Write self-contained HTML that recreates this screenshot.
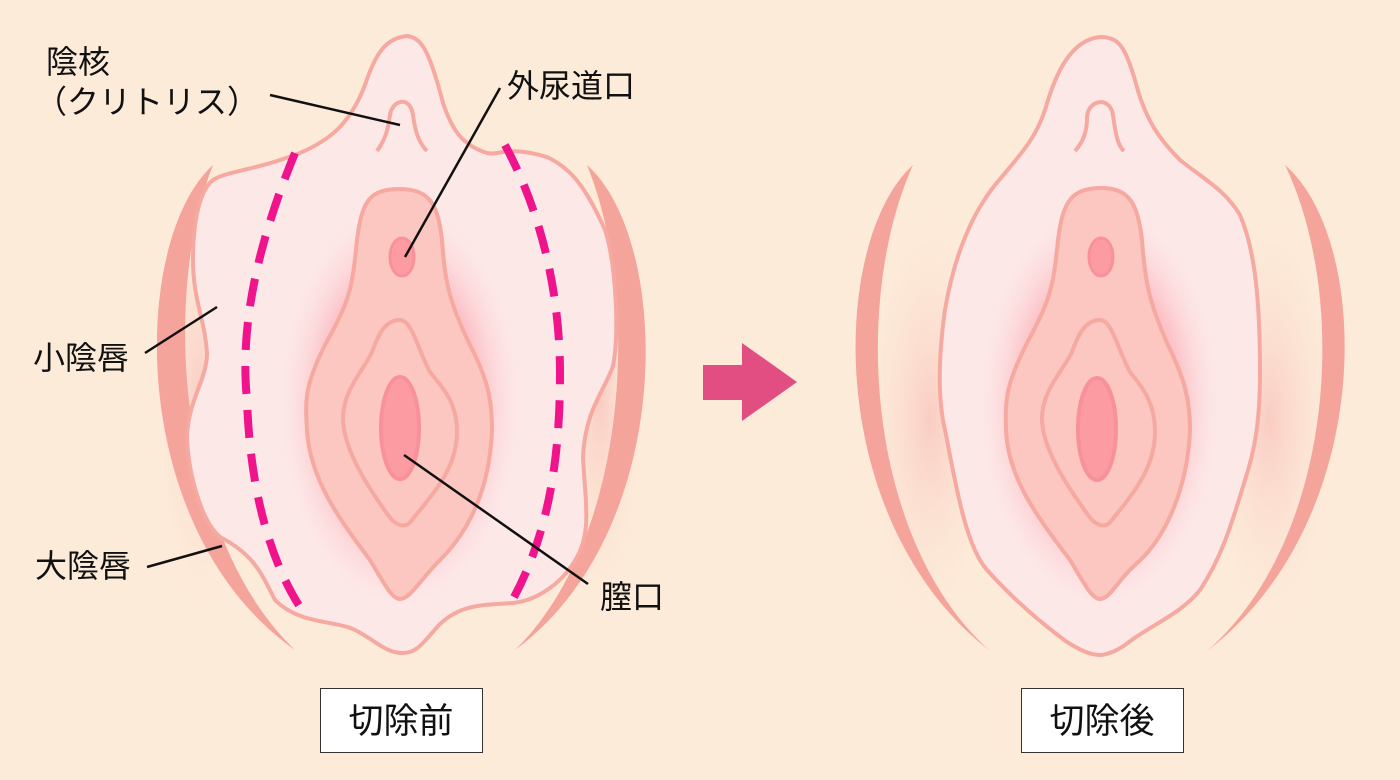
<!DOCTYPE html>
<html><head><meta charset="utf-8"><style>
html,body{margin:0;padding:0;background:#fdebd9;}
svg{display:block}
text{font-family:"Liberation Sans","Noto Sans CJK JP",sans-serif;font-size:32px;fill:#111;}
</style></head><body>
<svg width="1400" height="780" viewBox="0 0 1400 780" xmlns="http://www.w3.org/2000/svg">
<defs>
<radialGradient id="glow" cx="50%" cy="50%" r="50%">
<stop offset="0%" stop-color="#fb9fac" stop-opacity="0.9"/>
<stop offset="65%" stop-color="#fcb3bb" stop-opacity="0.7"/>
<stop offset="100%" stop-color="#fde8e8" stop-opacity="0"/>
</radialGradient>
<radialGradient id="side" cx="50%" cy="50%" r="50%">
<stop offset="0%" stop-color="#f9c9c0" stop-opacity="0.9"/>
<stop offset="100%" stop-color="#fdebd9" stop-opacity="0"/>
</radialGradient>
</defs>
<rect width="1400" height="780" fill="#fdebd9"/>

<!-- LEFT FIGURE -->
<ellipse cx="200" cy="400" rx="50" ry="230" fill="url(#side)"/>
<ellipse cx="600" cy="400" rx="50" ry="230" fill="url(#side)"/>
<path d="M213,165 C130,240 125,530 295,650 C180,540 160,300 213,165 Z" fill="#f4a49a"/>
<path d="M587,165 C672,240 678,530 515,650 C628,540 642,300 587,165 Z" fill="#f4a49a"/>
<path d="M407,36 C420,38 428,45 443,103 C452,130 462,145 487,153 C500,156 505,145 547,157 C570,168 585,185 605,230 C615,260 620,330 613,366 C605,390 585,410 583,457 C585,500 592,530 577,557 C565,580 540,600 513,603 C480,605 460,605 440,624 C425,640 418,653 403,653 C385,653 375,640 355,630 C335,620 300,625 275,600 C262,575 255,555 220,537 C200,520 188,470 187,437 C188,400 207,380 207,353 C205,320 193,300 193,260 C193,220 200,190 213,180 C230,170 250,172 300,153 C330,140 350,124 365,85 C375,55 385,38 407,36 Z" fill="#fde8e8" stroke="#f5a9a0" stroke-width="4"/>
<ellipse cx="400" cy="405" rx="125" ry="210" fill="url(#glow)"/>
<path d="M377,151 C385,140 388,130 390,115 C392,100 410,95 413,115 C415,130 418,142 427,151" fill="none" stroke="#f5a9a0" stroke-width="4"/>
<path d="M400,189 C370,189 362,200 357,240 C352,290 350,300 325,345 C305,385 305,400 307,430 C310,480 340,520 370,560 C385,585 392,599 400,599 C410,599 420,580 440,560 C475,525 490,480 492,430 C492,400 488,380 470,345 C448,300 445,280 442,240 C438,205 430,189 400,189 Z" fill="#fcc6c1" stroke="#f5a9a0" stroke-width="4"/>
<path d="M400,320 C385,320 378,335 372,352 C365,368 343,390 343,418 C343,450 370,490 388,515 C395,525 405,530 412,520 C430,497 457,470 457,432 C457,400 440,385 430,372 C418,350 412,320 400,320 Z" fill="#fcc6c1" stroke="#f5a9a0" stroke-width="4"/>
<ellipse cx="400" cy="428" rx="19" ry="51" fill="#fc9ca2" stroke="#f8919a" stroke-width="4"/>
<ellipse cx="402" cy="257" rx="12" ry="19" fill="#fc9ca2" stroke="#f8919a" stroke-width="3"/>
<path d="M295,153 C255,250 240,330 247,400 C250,490 270,560 300,607" fill="none" stroke="#f0148c" stroke-width="8" stroke-dasharray="28 16"/>
<path d="M505,145 C540,210 560,290 560,374 C560,470 545,540 513,599" fill="none" stroke="#f0148c" stroke-width="8" stroke-dasharray="28 16"/>
<g stroke="#111" stroke-width="2.5">
<line x1="270" y1="95" x2="400" y2="125"/>
<line x1="500" y1="88" x2="405" y2="257"/>
<line x1="145" y1="353" x2="217" y2="307"/>
<line x1="147" y1="567" x2="222" y2="546"/>
<line x1="404" y1="455" x2="588" y2="584"/>
</g>
<text x="46" y="73">陰核</text>
<text x="35" y="113">（クリトリス）</text>
<text x="33" y="369">小陰唇</text>
<text x="35" y="577">大陰唇</text>
<text x="507" y="97">外尿道口</text>
<text x="600" y="608">膣口</text>

<!-- ARROW -->
<polygon points="703,365 742,365 742,343 797,382 742,421 742,400 703,400" fill="#e24e82"/>

<!-- RIGHT FIGURE -->
<ellipse cx="930" cy="420" rx="75" ry="230" fill="url(#side)"/>
<ellipse cx="1270" cy="420" rx="75" ry="230" fill="url(#side)"/>
<path d="M913,165 C830,240 822,520 990,651 C866,540 852,300 913,165 Z" fill="#f4a49a"/>
<path d="M1285,165 C1372,240 1378,520 1207,651 C1334,540 1350,300 1285,165 Z" fill="#f4a49a"/>
<path d="M1100,37 C1120,37 1125,48 1135,80 C1145,120 1160,140 1180,160 C1205,180 1225,190 1240,215 C1255,250 1260,300 1260,373 C1260,420 1255,450 1245,480 C1230,530 1220,560 1200,590 C1180,615 1150,625 1125,645 C1115,652 1105,655 1100,655 C1090,655 1080,650 1067,642 C1030,615 1005,590 987,570 C965,545 955,480 945,430 C938,400 938,360 945,310 C955,250 975,210 995,185 C1020,155 1035,140 1045,110 C1055,75 1070,40 1100,37 Z" fill="#fde8e8" stroke="#f5a9a0" stroke-width="4"/>
<ellipse cx="1100" cy="405" rx="125" ry="210" fill="url(#glow)"/>
<path d="M1075,151 C1083,142 1087,132 1087,118 C1087,100 1110,95 1113,115 C1115,130 1117,145 1124,151" fill="none" stroke="#f5a9a0" stroke-width="4"/>
<path d="M1102,188 C1072,188 1063,200 1058,240 C1053,290 1050,300 1026,345 C1006,385 1005,400 1006,430 C1008,480 1040,520 1070,560 C1085,585 1092,599 1100,599 C1110,599 1118,580 1135,565 C1170,535 1188,480 1190,430 C1190,400 1185,380 1168,345 C1148,300 1145,280 1142,240 C1138,205 1130,188 1102,188 Z" fill="#fcc6c1" stroke="#f5a9a0" stroke-width="4"/>
<path d="M1100,320 C1085,320 1078,335 1072,352 C1065,368 1042,390 1042,418 C1042,450 1070,490 1088,515 C1095,525 1105,530 1112,520 C1130,497 1155,470 1155,432 C1155,400 1140,385 1130,372 C1118,350 1112,320 1100,320 Z" fill="#fcc6c1" stroke="#f5a9a0" stroke-width="4"/>
<ellipse cx="1097" cy="429" rx="19" ry="51" fill="#fc9ca2" stroke="#f8919a" stroke-width="4"/>
<ellipse cx="1101" cy="257" rx="12" ry="19" fill="#fc9ca2" stroke="#f8919a" stroke-width="3"/>

<!-- LABEL BOXES -->
<rect x="320.5" y="688.5" width="162" height="64" fill="#fff" stroke="#333" stroke-width="1"/>
<text x="401" y="733" text-anchor="middle" style="font-size:35px">切除前</text>
<rect x="1021.5" y="688.5" width="162" height="64" fill="#fff" stroke="#333" stroke-width="1"/>
<text x="1102" y="733" text-anchor="middle" style="font-size:35px">切除後</text>
</svg>
</body></html>
